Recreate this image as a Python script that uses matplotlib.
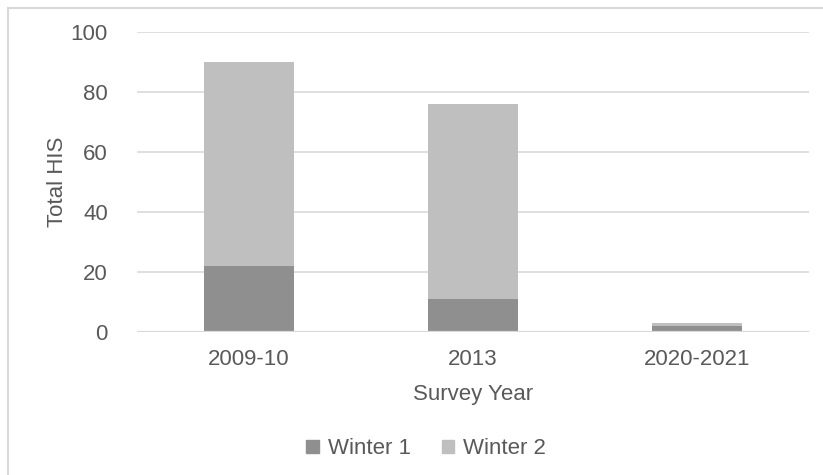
import matplotlib
matplotlib.use("Agg")
import matplotlib.pyplot as plt
from matplotlib.patches import Rectangle, Patch

plt.rcParams['font.family'] = ['Liberation Sans', 'DejaVu Sans']

years = ['2009-10', '2013', '2020-2021']
winter1 = [22, 11, 2]
winter2 = [68, 65, 1]
yticks = [0, 20, 40, 60, 80, 100]

c_w1 = '#8f8f8f'
c_w2 = '#bfbfbf'
c_grid = '#d9d9d9'
c_text = '#595959'

fig = plt.figure(figsize=(8.23, 4.75), dpi=100)
ax = fig.add_axes([137/823, 1-332/475, (809-137)/823, 300/475])

x = range(len(years))
ax.bar(x, winter1, width=0.4, color=c_w1, label='Winter 1', zorder=3)
ax.bar(x, winter2, width=0.4, bottom=winter1, color=c_w2, label='Winter 2', zorder=3)

ax.set_xlim(-0.5, len(years) - 0.5)
ax.set_ylim(0, 100)
ax.set_yticks(yticks)
ax.set_xticks(list(x))
ax.set_xticklabels(years)
ax.yaxis.grid(True, color=c_grid, linewidth=1.2, zorder=0)
ax.axhline(0, color=c_grid, linewidth=1.6, zorder=4)
for s in ax.spines.values():
    s.set_visible(False)
ax.tick_params(axis='both', length=0, labelsize=16, labelcolor=c_text)
ax.tick_params(axis='y', pad=21)
ax.tick_params(axis='x', pad=12)

ax.set_ylabel('Total HIS', fontsize=16, color=c_text, labelpad=2)
ax.set_xlabel('Survey Year', fontsize=16, color=c_text, labelpad=10)

# legend with small square swatches below the axis title
handles = [Patch(color=c_w1), Patch(color=c_w2)]
fig.legend(handles, ['Winter 1', 'Winter 2'], loc='center', ncol=2,
           bbox_to_anchor=(426/823, 1-449/475), frameon=False,
           fontsize=16, labelcolor=c_text, handlelength=0.55,
           handleheight=0.55, handletextpad=0.4, columnspacing=1.4)

# chart area border
fig.patches.append(Rectangle((8/823, -0.1), 1.1, 1 - 8/475 + 0.1,
                             transform=fig.transFigure, fill=False,
                             edgecolor=c_grid, linewidth=1.5))

fig.savefig('out.png', dpi=100)
